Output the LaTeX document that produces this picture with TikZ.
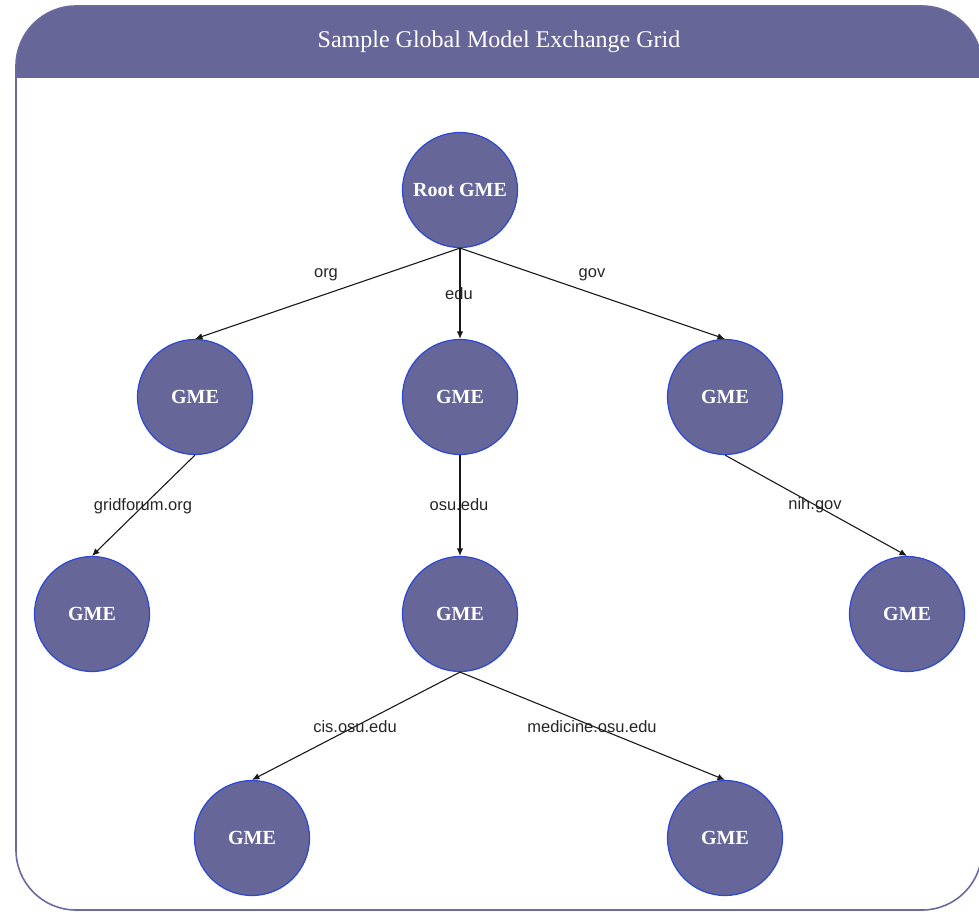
\documentclass[tikz,border=0pt]{standalone}
\usepackage{fontspec}
\setmainfont{Liberation Serif}
\newfontfamily\labelfont{Liberation Sans}
\usetikzlibrary{arrows.meta}
\definecolor{gmefill}{HTML}{666699}
\definecolor{gmeedge}{HTML}{2B47D6}
\definecolor{frameline}{HTML}{6A6AA0}
\begin{document}
\begin{tikzpicture}[x=1pt,y=-1pt,
  gme/.style={circle,fill=gmefill,draw=gmeedge,line width=1.2pt,minimum size=115pt,inner sep=0pt,
    text=white,font=\fontsize{20}{22}\selectfont\bfseries},
  link/.style={draw=black!90,line width=1.1pt,-{Latex[length=7.5pt,width=6.5pt]}},
  tag/.style={font=\labelfont\fontsize{16.5}{18}\selectfont,text=black!85,inner sep=1pt}]
  \useasboundingbox (0,0) rectangle (979,912);
  \begin{scope}
    \clip (0,0) rectangle (979,912);
    % header band
    \fill[gmefill] (16,78) -- (16,66) to[out=90,in=180] (76,6) -- (922,6) to[out=0,in=90] (982,66) -- (982,78) -- cycle;
    % outer frame
    \draw[frameline,line width=1.6pt,rounded corners=60pt] (16,6) rectangle (982,910);
  \end{scope}
  \node[text=white,font=\fontsize{24}{26}\selectfont] (title) at (499,42) {Sample Global Model Exchange Grid};

  \node[gme] (root) at (460,190) {Root GME};
  \node[gme] (org) at (195,397) {GME};
  \node[gme] (edu) at (460,397) {GME};
  \node[gme] (gov) at (725,397) {GME};
  \node[gme] (grid) at (92,614) {GME};
  \node[gme] (osu) at (460,614) {GME};
  \node[gme] (nih) at (907,614) {GME};
  \node[gme] (cis) at (252,838) {GME};
  \node[gme] (med) at (725,838) {GME};

  \draw[link] (root.south) -- (org.north);
  \draw[link] (root.south) -- (edu.north);
  \draw[link] (root.south) -- (gov.north);
  \draw[link] (org.south) -- (grid.north);
  \draw[link] (edu.south) -- (osu.north);
  \draw[link] (gov.south) -- (nih.north);
  \draw[link] (osu.south) -- (cis.north);
  \draw[link] (osu.south) -- (med.north);

  \node[tag] (lorg) at (326,275) {org};
  \node[tag] (ledu) at (459,294) {edu};
  \node[tag] (lgov) at (592,275) {gov};
  \node[tag] (lgrid) at (143,506) {gridforum.org};
  \node[tag] (losu) at (459,505) {osu.edu};
  \node[tag] (lnih) at (815,505) {nih.gov};
  \node[tag] (lcis) at (355,727) {cis.osu.edu};
  \node[tag] (lmed) at (592,727) {medicine.osu.edu};
\end{tikzpicture}
\end{document}
